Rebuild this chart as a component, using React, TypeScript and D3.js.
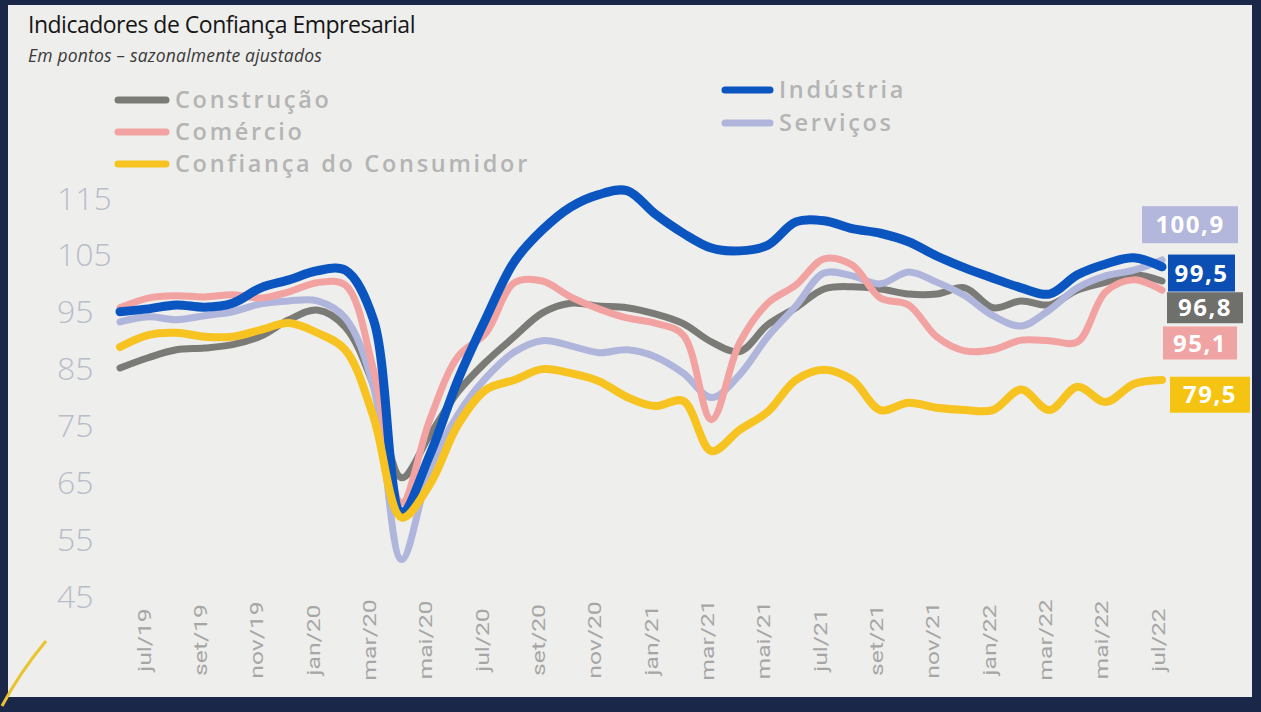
import * as d3 from 'd3';

const months = [
  'jun/19', 'jul/19', 'ago/19', 'set/19', 'out/19', 'nov/19', 'dez/19',
  'jan/20', 'fev/20', 'mar/20', 'abr/20', 'mai/20', 'jun/20', 'jul/20', 'ago/20', 'set/20', 'out/20', 'nov/20', 'dez/20',
  'jan/21', 'fev/21', 'mar/21', 'abr/21', 'mai/21', 'jun/21', 'jul/21', 'ago/21', 'set/21', 'out/21', 'nov/21', 'dez/21',
  'jan/22', 'fev/22', 'mar/22', 'abr/22', 'mai/22', 'jun/22', 'jul/22',
];

const tickLabels = [
  'jul/19', 'set/19', 'nov/19', 'jan/20', 'mar/20', 'mai/20', 'jul/20', 'set/20', 'nov/20', 'jan/21',
  'mar/21', 'mai/21', 'jul/21', 'set/21', 'nov/21', 'jan/22', 'mar/22', 'mai/22', 'jul/22',
];

const yTicks = [115, 105, 95, 85, 75, 65, 55, 45];

const construcao = [85.1, 86.9, 88.3, 88.6, 89.2, 90.7, 93.6, 95.3, 92.3, 82.1, 65.8, 73.3, 80.9, 86.2, 90.6, 94.8, 96.5, 96.0, 95.7, 94.6, 92.9, 89.7, 88.0, 92.7, 95.7, 99.0, 99.4, 99.0, 98.1, 98.1, 99.2, 95.7, 96.9, 96.2, 98.8, 100.2, 101.5, 100.4];
const servicos = [93.2, 94.1, 93.6, 94.3, 95.0, 96.4, 96.9, 96.9, 93.9, 81.8, 51.4, 67.2, 76.9, 83.4, 87.9, 89.9, 89.0, 87.8, 88.3, 87.1, 84.2, 79.9, 83.9, 90.6, 96.0, 101.8, 101.3, 99.9, 102.0, 100.2, 97.8, 94.3, 92.5, 95.3, 99.2, 101.3, 102.3, 104.1];
const comercio = [95.7, 97.4, 97.8, 97.6, 98.0, 97.4, 98.5, 100.1, 99.7, 84.8, 61.4, 76.0, 87.1, 91.3, 100.1, 100.4, 97.6, 95.5, 93.9, 93.0, 90.9, 76.0, 89.5, 96.5, 99.7, 104.3, 103.2, 97.4, 96.2, 90.6, 88.1, 88.3, 90.0, 89.9, 89.7, 98.5, 100.6, 98.8];
const industria = [95.0, 95.5, 96.2, 95.8, 96.5, 99.2, 100.6, 102.2, 102.3, 93.6, 59.8, 69.8, 83.0, 93.9, 103.8, 109.4, 113.4, 115.6, 116.3, 112.2, 108.8, 106.2, 105.7, 106.7, 110.8, 111.0, 109.6, 108.8, 107.3, 104.8, 102.7, 100.9, 99.2, 98.1, 101.5, 103.4, 104.5, 102.9];
const consumidor = [88.8, 90.9, 91.3, 90.6, 90.6, 91.8, 93.0, 91.3, 88.3, 76.5, 58.8, 64.6, 75.1, 81.3, 83.0, 84.9, 84.2, 82.8, 80.0, 78.4, 79.3, 70.5, 74.2, 77.4, 83.0, 84.8, 83.0, 77.7, 79.0, 78.1, 77.7, 77.7, 81.3, 77.7, 81.8, 79.1, 82.3, 83.0];

// last-value tags on the right (text, colour, vertical anchor in axis units)
const endLabels = ['100,9', '99,5', '96,8', '95,1', '79,5'];
const endColors = ['#b3b7db', '#0b4fb4', '#6f6f6c', '#f0a3a3', '#f5c412'];
const endAnchors = [110.3, 101.8, 95.7, 89.5, 80.4];
const endBoxX = [1142, 1168, 1167, 1163, 1170];
const endBoxW = [96, 67, 76, 74, 80];
const endBoxH = [37, 37, 31, 33, 36];

const series = [
  { name: 'Construção', values: construcao, color: '#7a7a77', width: 7 },
  { name: 'Serviços', values: servicos, color: '#b0b5dc', width: 7 },
  { name: 'Comércio', values: comercio, color: '#f2a3a1', width: 7 },
  { name: 'Indústria', values: industria, color: '#0b55c0', width: 9 },
  { name: 'Confiança do Consumidor', values: consumidor, color: '#f7c320', width: 8 },
];

const legendLeft = ['Construção', 'Comércio', 'Confiança do Consumidor'];
const legendRight = ['Indústria', 'Serviços'];

const W = 1261, H = 712;

export default function App() {
  const x = d3.scalePoint<string>().domain(months).range([120, 1162]);
  const y = d3.scaleLinear().domain([45, 115]).range([596, 198]);

  const line = d3.line<number>()
    .x((_, i) => x(months[i]) ?? 0)
    .y(d => y(d))
    .curve(d3.curveCatmullRom.alpha(0.5));

  const colorOf = (n: string) => series.find(s => s.name === n)!.color;
  const legFont = { fontFamily: 'Open Sans, sans-serif', fontWeight: 600, fontSize: 23.5, letterSpacing: 2.7, fill: '#b4b4b4' };

  return (
    <div style={{ position: 'fixed', left: 0, top: 0 }}>
      <svg width={W} height={H} style={{ display: 'block' }}>
        <rect width={W} height={H} fill="#1a2749" />
        <rect x={8} y={5} width={1244} height={692} fill="#eeeeec" />
        <path d="M2,706 Q20,672 46,641" fill="none" stroke="#e9c42a" strokeWidth={3} />

        <text x={28} y={33} fontFamily="Open Sans, sans-serif" fontSize={23} letterSpacing={-0.5} fill="#161616">
          Indicadores de Confiança Empresarial
        </text>
        <text x={28} y={62} fontFamily="Open Sans, sans-serif" fontStyle="italic" fontSize={17.5} letterSpacing={0.2} fill="#3a3a3a">
          Em pontos – sazonalmente ajustados
        </text>

        {legendLeft.map((n, i) => (
          <g key={n} transform={`translate(0,${100 + i * 32})`}>
            <line x1={118} x2={166} stroke={colorOf(n)} strokeWidth={7} strokeLinecap="round" />
            <text x={175} dy="0.35em" {...legFont}>{n}</text>
          </g>
        ))}
        {legendRight.map((n, i) => (
          <g key={n} transform={`translate(0,${90 + i * 33})`}>
            <line x1={725} x2={770} stroke={colorOf(n)} strokeWidth={7} strokeLinecap="round" />
            <text x={779} dy="0.35em" {...legFont}>{n}</text>
          </g>
        ))}

        {yTicks.map(t => (
          <text key={t} x={57} y={y(t)} dy="0.36em" fontFamily="Open Sans, sans-serif" fontWeight={300}
            fontSize={32} fill="#b8bdca">{t}</text>
        ))}

        {tickLabels.map(t => (
          <text key={t} transform={`translate(${(x(t) ?? 0) - 4},640) rotate(-90) scale(1.3,1)`} dy="0.35em"
            textAnchor="middle" fontFamily="Roboto, sans-serif" fontSize={19} fill="#a6a6a6">{t}</text>
        ))}

        {series.map(s => (
          <path key={s.name} d={line(s.values) ?? ''} fill="none" stroke={s.color}
            strokeWidth={s.width} strokeLinecap="round" strokeLinejoin="round" />
        ))}

        {endLabels.map((l, i) => (
          <g key={l} transform={`translate(${endBoxX[i]},${y(endAnchors[i])})`}>
            <rect y={-endBoxH[i] / 2} width={endBoxW[i]} height={endBoxH[i]} fill={endColors[i]} />
            <text x={endBoxW[i] / 2} dy="0.36em" textAnchor="middle" fontFamily="Open Sans, sans-serif"
              fontWeight={700} fontSize={24} letterSpacing={1.5} fill="#ffffff">{l}</text>
          </g>
        ))}
      </svg>
    </div>
  );
}
